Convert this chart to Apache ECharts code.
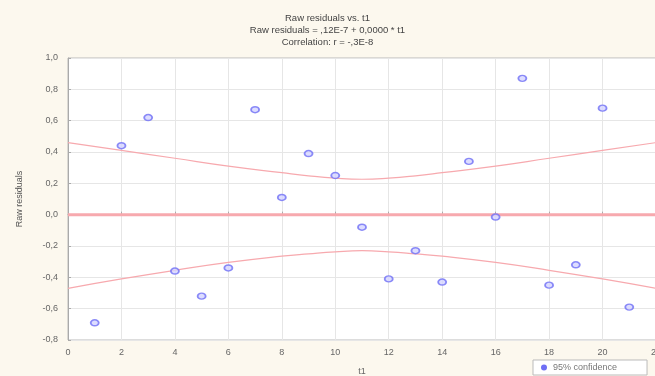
<!DOCTYPE html>
<html>
<head>
<meta charset="utf-8">
<script src="https://cdn.jsdelivr.net/npm/echarts@6/dist/echarts.min.js"></script>
<style>
  html, body { margin: 0; padding: 0; background: #fcf8ee; }
  #ch1 { width: 655px; height: 376px; }
</style>
</head>
<body>
<div id="ch1"></div>
<script>
const t = [1, 2, 3, 4, 5, 6, 7, 8, 9, 10, 11, 12, 13, 14, 15, 16, 17, 18, 19, 20, 21];
const residuals = [-0.69, 0.44, 0.62, -0.36, -0.52, -0.34, 0.67, 0.11, 0.39, 0.25, -0.08,
  -0.41, -0.23, -0.43, 0.34, -0.015, 0.87, -0.45, -0.32, 0.68, -0.59];
const bandT = [0, 2, 4, 6, 8, 9, 10, 11, 12, 13, 14, 16, 18, 20, 22];
const bandUpper = [0.46, 0.41, 0.36, 0.31, 0.268, 0.248, 0.233, 0.226, 0.233, 0.248, 0.268, 0.31, 0.36, 0.41, 0.46];
const bandLower = [-0.47, -0.41, -0.355, -0.305, -0.265, -0.25, -0.237, -0.23, -0.237, -0.25, -0.265, -0.305, -0.355, -0.41, -0.47];
const fitLine = [[0, 0], [22, 0]];

const cht1 = echarts.init(document.getElementById('ch1'));

const font = 'Liberation Sans, Arial, sans-serif';
const pink = '#f7a9ae';

const options1 = {
  backgroundColor: '#fcf8ee',
  animation: false,
  textStyle: { fontFamily: font },
  title: {
    text: 'Raw residuals vs. t1\nRaw residuals = ,12E-7 + 0,0000 * t1\nCorrelation: r = -,3E-8',
    left: 'center',
    top: 7,
    textStyle: {
      fontSize: 9.5,
      fontWeight: 'normal',
      color: '#444',
      lineHeight: 12,
      fontFamily: font,
    },
  },
  legend: {
    data: [{ name: '95% confidence', icon: 'circle' }],
    left: 533,
    top: 360,
    itemWidth: 8,
    itemHeight: 6,
    itemGap: 4,
    padding: [3, 30, 3, 8],
    backgroundColor: '#fff',
    borderColor: '#bbb',
    borderWidth: 1,
    borderRadius: 0,
    textStyle: { fontSize: 9, color: '#777', fontFamily: font },
  },
  grid: {
    left: 68,
    right: -1,
    top: 58,
    bottom: 36,
    outerBoundsMode: 'none',
    containLabel: false,
    show: true,
    backgroundColor: '#fff',
    borderColor: '#bbb',
    borderWidth: 1,
  },
  xAxis: {
    type: 'value',
    min: 0,
    max: 22,
    interval: 2,
    name: 't1',
    nameLocation: 'middle',
    nameGap: 27,
    nameTextStyle: { fontSize: 9, color: '#666' },
    axisLine: { show: true, lineStyle: { color: '#aaa' } },
    axisTick: { show: true, inside: true, length: 3, lineStyle: { color: '#aaa' } },
    axisLabel: { fontSize: 9, color: '#666', margin: 8 },
    splitLine: { show: true, lineStyle: { color: '#e6e6e6' } },
  },
  yAxis: {
    type: 'value',
    min: -0.8,
    max: 1.0,
    interval: 0.2,
    name: 'Raw residuals',
    nameLocation: 'middle',
    nameRotate: 90,
    nameGap: 44,
    nameTextStyle: { fontSize: 9, color: '#555' },
    axisLine: { show: true, lineStyle: { color: '#aaa' } },
    axisTick: { show: true, inside: true, length: 3, lineStyle: { color: '#aaa' } },
    axisLabel: {
      fontSize: 9,
      color: '#666',
      margin: 10,
      formatter: (v) => v.toFixed(1).replace('.', ','),
    },
    splitLine: { show: true, lineStyle: { color: '#e6e6e6' } },
  },
  series: [
    {
      name: 'fit',
      type: 'line',
      data: fitLine,
      symbol: 'none',
      lineStyle: { color: pink, width: 3 },
      z: 2,
    },
    {
      name: '95% confidence',
      type: 'line',
      data: bandT.map((x, i) => [x, bandUpper[i]]),
      smooth: true,
      symbol: 'none',
      itemStyle: { color: '#6f6ff5' },
      lineStyle: { color: pink, width: 1.2 },
      z: 2,
    },
    {
      name: 'lower',
      type: 'line',
      data: bandT.map((x, i) => [x, bandLower[i]]),
      smooth: true,
      symbol: 'none',
      lineStyle: { color: pink, width: 1.2 },
      z: 2,
    },
    {
      name: 'residuals',
      type: 'scatter',
      data: t.map((x, i) => [x, residuals[i]]),
      symbol: 'circle',
      symbolSize: [8, 6],
      itemStyle: {
        color: '#d4d4ff',
        borderColor: '#6f6ff5',
        borderWidth: 1.6,
      },
      z: 3,
    },
  ],
};
cht1.setOption(options1);
</script>
</body>
</html>
